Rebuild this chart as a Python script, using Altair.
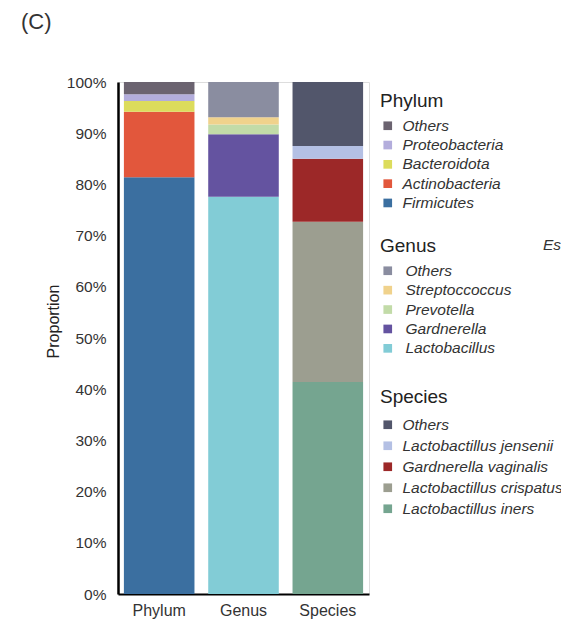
import altair as alt
import pandas as pd

# Relative abundance (%) at each taxonomic level, listed bottom-up
levels = ["Phylum", "Genus", "Species"]

phylum_taxa = ["Firmicutes", "Actinobacteria", "Bacteroidota", "Proteobacteria", "Others"]
phylum_vals = [81.4, 12.8, 2.1, 1.3, 2.4]
phylum_colors = ["#3b6fa0", "#e2573c", "#dcdc5c", "#b3addc", "#6b6370"]

genus_taxa = ["Lactobacillus", "Gardnerella", "Prevotella", "Streptoccoccus", "Others"]
genus_vals = [77.6, 12.2, 1.9, 1.4, 6.9]
genus_colors = ["#82ccd6", "#6453a0", "#c2dba8", "#f0d28c", "#8a8da0"]

species_taxa = ["Lactobactillus iners", "Lactobactillus crispatus", "Gardnerella vaginalis",
                "Lactobactillus jensenii", "Others"]
species_vals = [41.4, 31.3, 12.3, 2.5, 12.5]
species_colors = ["#75a590", "#9c9e90", "#9c2828", "#b4c0e4", "#52566b"]

FONT = "Liberation Sans"
W, H = 251, 512

x_axis = alt.Axis(title=None, labelAngle=0, ticks=False, domainColor="black", domainWidth=2,
                  labelFontSize=16, labelColor="#333", labelPadding=8, labelFont=FONT)
y_axis = alt.Axis(title="Proportion", values=list(range(0, 101, 10)),
                  labelExpr="datum.value + '%'", ticks=False, grid=False,
                  domainColor="black", domainWidth=2.5, labelFontSize=15.5,
                  labelColor="#333", labelPadding=12, labelFont=FONT,
                  titleFontSize=16, titleFontWeight="normal", titleColor="#222",
                  titleFont=FONT, titleX=-60, titleY=239, titleBaseline="alphabetic")


def level_layer(level, taxa, vals, colors, ly, offset, row_pad, title_pad):
    df = pd.DataFrame({"level": level, "taxon": taxa, "value": vals,
                       "rank": list(range(len(taxa)))})
    return alt.Chart(df).mark_bar().encode(
        x=alt.X("level:N", scale=alt.Scale(domain=levels, paddingInner=0.163, paddingOuter=0.07),
                axis=x_axis),
        y=alt.Y("value:Q", stack="zero", scale=alt.Scale(domain=[0, 100], nice=False),
                axis=y_axis),
        color=alt.Color(
            "taxon:N",
            scale=alt.Scale(domain=taxa[::-1], range=colors[::-1]),
            legend=alt.Legend(
                title=level, orient="none", legendX=262, legendY=ly, padding=0,
                symbolType="square", symbolSize=75, symbolStrokeWidth=0,
                labelFont=FONT, labelFontSize=15.5, labelFontStyle="italic",
                labelColor="#333", labelOffset=offset, labelLimit=400,
                rowPadding=row_pad, titleFont=FONT, titleFontSize=19,
                titleFontWeight="normal", titleColor="#222", titlePadding=title_pad,
            ),
        ),
        order=alt.Order("rank:Q", sort="ascending"),
    )


phylum = level_layer("Phylum", phylum_taxa, phylum_vals, phylum_colors, 10, 7, 2.3, 7)
genus = level_layer("Genus", genus_taxa, genus_vals, genus_colors, 155, 10, 2.4, 7)
species = level_layer("Species", species_taxa, species_vals, species_colors, 306, 7, 4.0, 10)

panel = alt.Chart(pd.DataFrame({"t": ["(C)"]})).mark_text(
    font=FONT, fontSize=22, color="#333", align="left", baseline="alphabetic"
).encode(text="t:N", x=alt.value(-97), y=alt.value(-53))

side = alt.Chart(pd.DataFrame({"t": ["Es"]})).mark_text(
    font=FONT, fontSize=15.5, fontStyle="italic", color="#333", align="left",
    baseline="alphabetic"
).encode(text="t:N", x=alt.value(425), y=alt.value(168))

chart = alt.layer(phylum, genus, species, panel, side).resolve_scale(
    color="independent"
).properties(
    width=W, height=H,
    autosize=alt.AutoSizeParams(type="none"),
    padding={"left": 118, "top": 82, "right": 561 - 118 - W, "bottom": 622 - 82 - H},
).configure_view(stroke=None).configure(font=FONT)

chart.save("out.html", embed_options={"renderer": "svg", "actions": False})
